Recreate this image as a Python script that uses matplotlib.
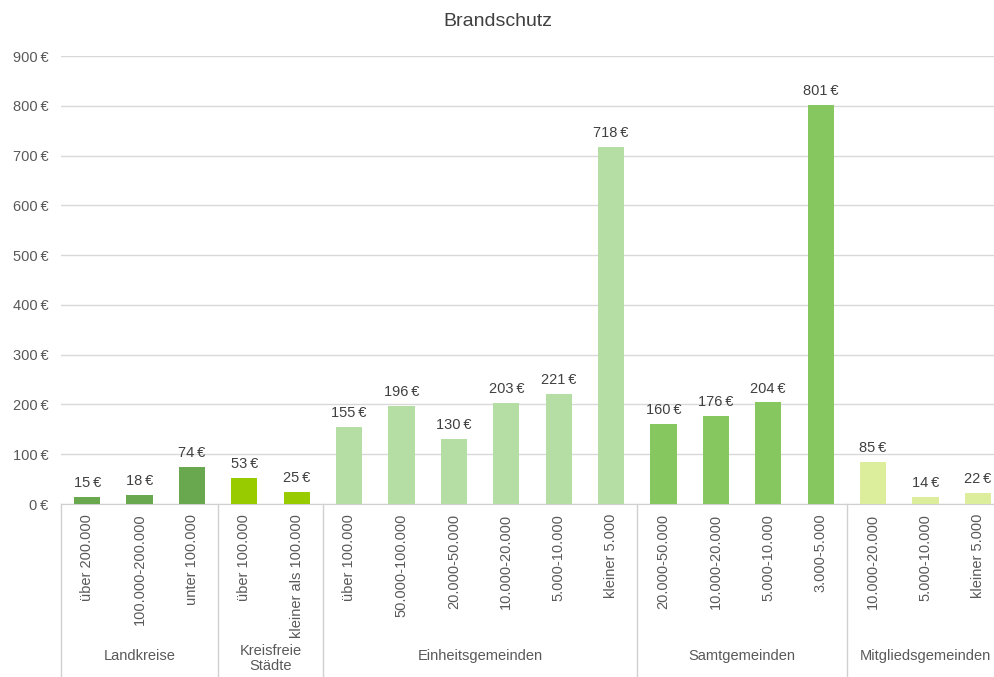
import matplotlib
matplotlib.use("Agg")
import matplotlib.pyplot as plt
from matplotlib.ticker import FuncFormatter

plt.rcParams['font.family'] = ['Liberation Sans', 'DejaVu Sans']

groups = ["Landkreise", "Kreisfreie\nStädte", "Einheitsgemeinden", "Samtgemeinden", "Mitgliedsgemeinden"]
group_sizes = [3, 2, 6, 4, 3]
group_colors = ["#6AA84F", "#99CC00", "#B4DEA4", "#86C75F", "#DCEE9B"]
categories = ["über 200.000", "100.000-200.000", "unter 100.000",
              "über 100.000", "kleiner als 100.000",
              "über 100.000", "50.000-100.000", "20.000-50.000", "10.000-20.000", "5.000-10.000", "kleiner 5.000",
              "20.000-50.000", "10.000-20.000", "5.000-10.000", "3.000-5.000",
              "10.000-20.000", "5.000-10.000", "kleiner 5.000"]
values = [15, 18, 74, 53, 25, 155, 196, 130, 203, 221, 718, 160, 176, 204, 801, 85, 14, 22]

W, H = 995, 677
fig = plt.figure(figsize=(W / 100, H / 100), dpi=100)
left, right_px = 61, 1004
bottom_px, top_px = 504, 56
ax = fig.add_axes([left / W, (H - bottom_px) / H, (right_px - left) / W, (bottom_px - top_px) / H])

colors = []
for c, n in zip(group_colors, group_sizes):
    colors += [c] * n
x = list(range(len(values)))
bars = ax.bar(x, values, width=0.5, color=colors, zorder=3)
for xi, v in zip(x, values):
    ax.annotate(f"{v}\u202f€", (xi, v), xytext=(0, 5), textcoords="offset points",
                ha="center", va="bottom", fontsize=10.5, color="#404040")

ax.set_xlim(-0.5, len(values) - 0.5)
ax.set_ylim(0, 900)
ax.set_yticks(range(0, 901, 100))
ax.yaxis.set_major_formatter(FuncFormatter(lambda v, p: f"{int(v)}\u202f€"))
ax.grid(axis="y", color="#D9D9D9", linewidth=1, zorder=0)
for s in ["top", "right", "left"]:
    ax.spines[s].set_visible(False)
ax.spines["bottom"].set_color("#D0D0D0")
ax.tick_params(axis="y", length=0, pad=9, labelsize=10.5, labelcolor="#595959")
ax.set_xticks(x)
ax.set_xticklabels(categories, rotation=90, fontsize=10.5, color="#595959")
ax.tick_params(axis="x", length=0, pad=7)

# group separators and labels
trans = ax.get_xaxis_transform()
pos = -0.5
bounds = [pos]
for n in group_sizes:
    pos += n
    bounds.append(pos)
for b in bounds:
    ax.plot([b, b], [0, -0.45], transform=trans, color="#D0D0D0", linewidth=1, clip_on=False)
for g, a, b in zip(groups, bounds[:-1], bounds[1:]):
    top_y = 644 if "\n" in g else 649
    label_y = -(top_y - bottom_px) / (bottom_px - top_px)
    ax.text((a + b) / 2, label_y, g, transform=trans, ha="center", va="top",
            fontsize=10.5, color="#595959", linespacing=1.05)

fig.text(0.5, 1 - 22 / H, "Brandschutz", ha="center", va="center", fontsize=14, color="#404040")

fig.savefig("out.png", dpi=100)
